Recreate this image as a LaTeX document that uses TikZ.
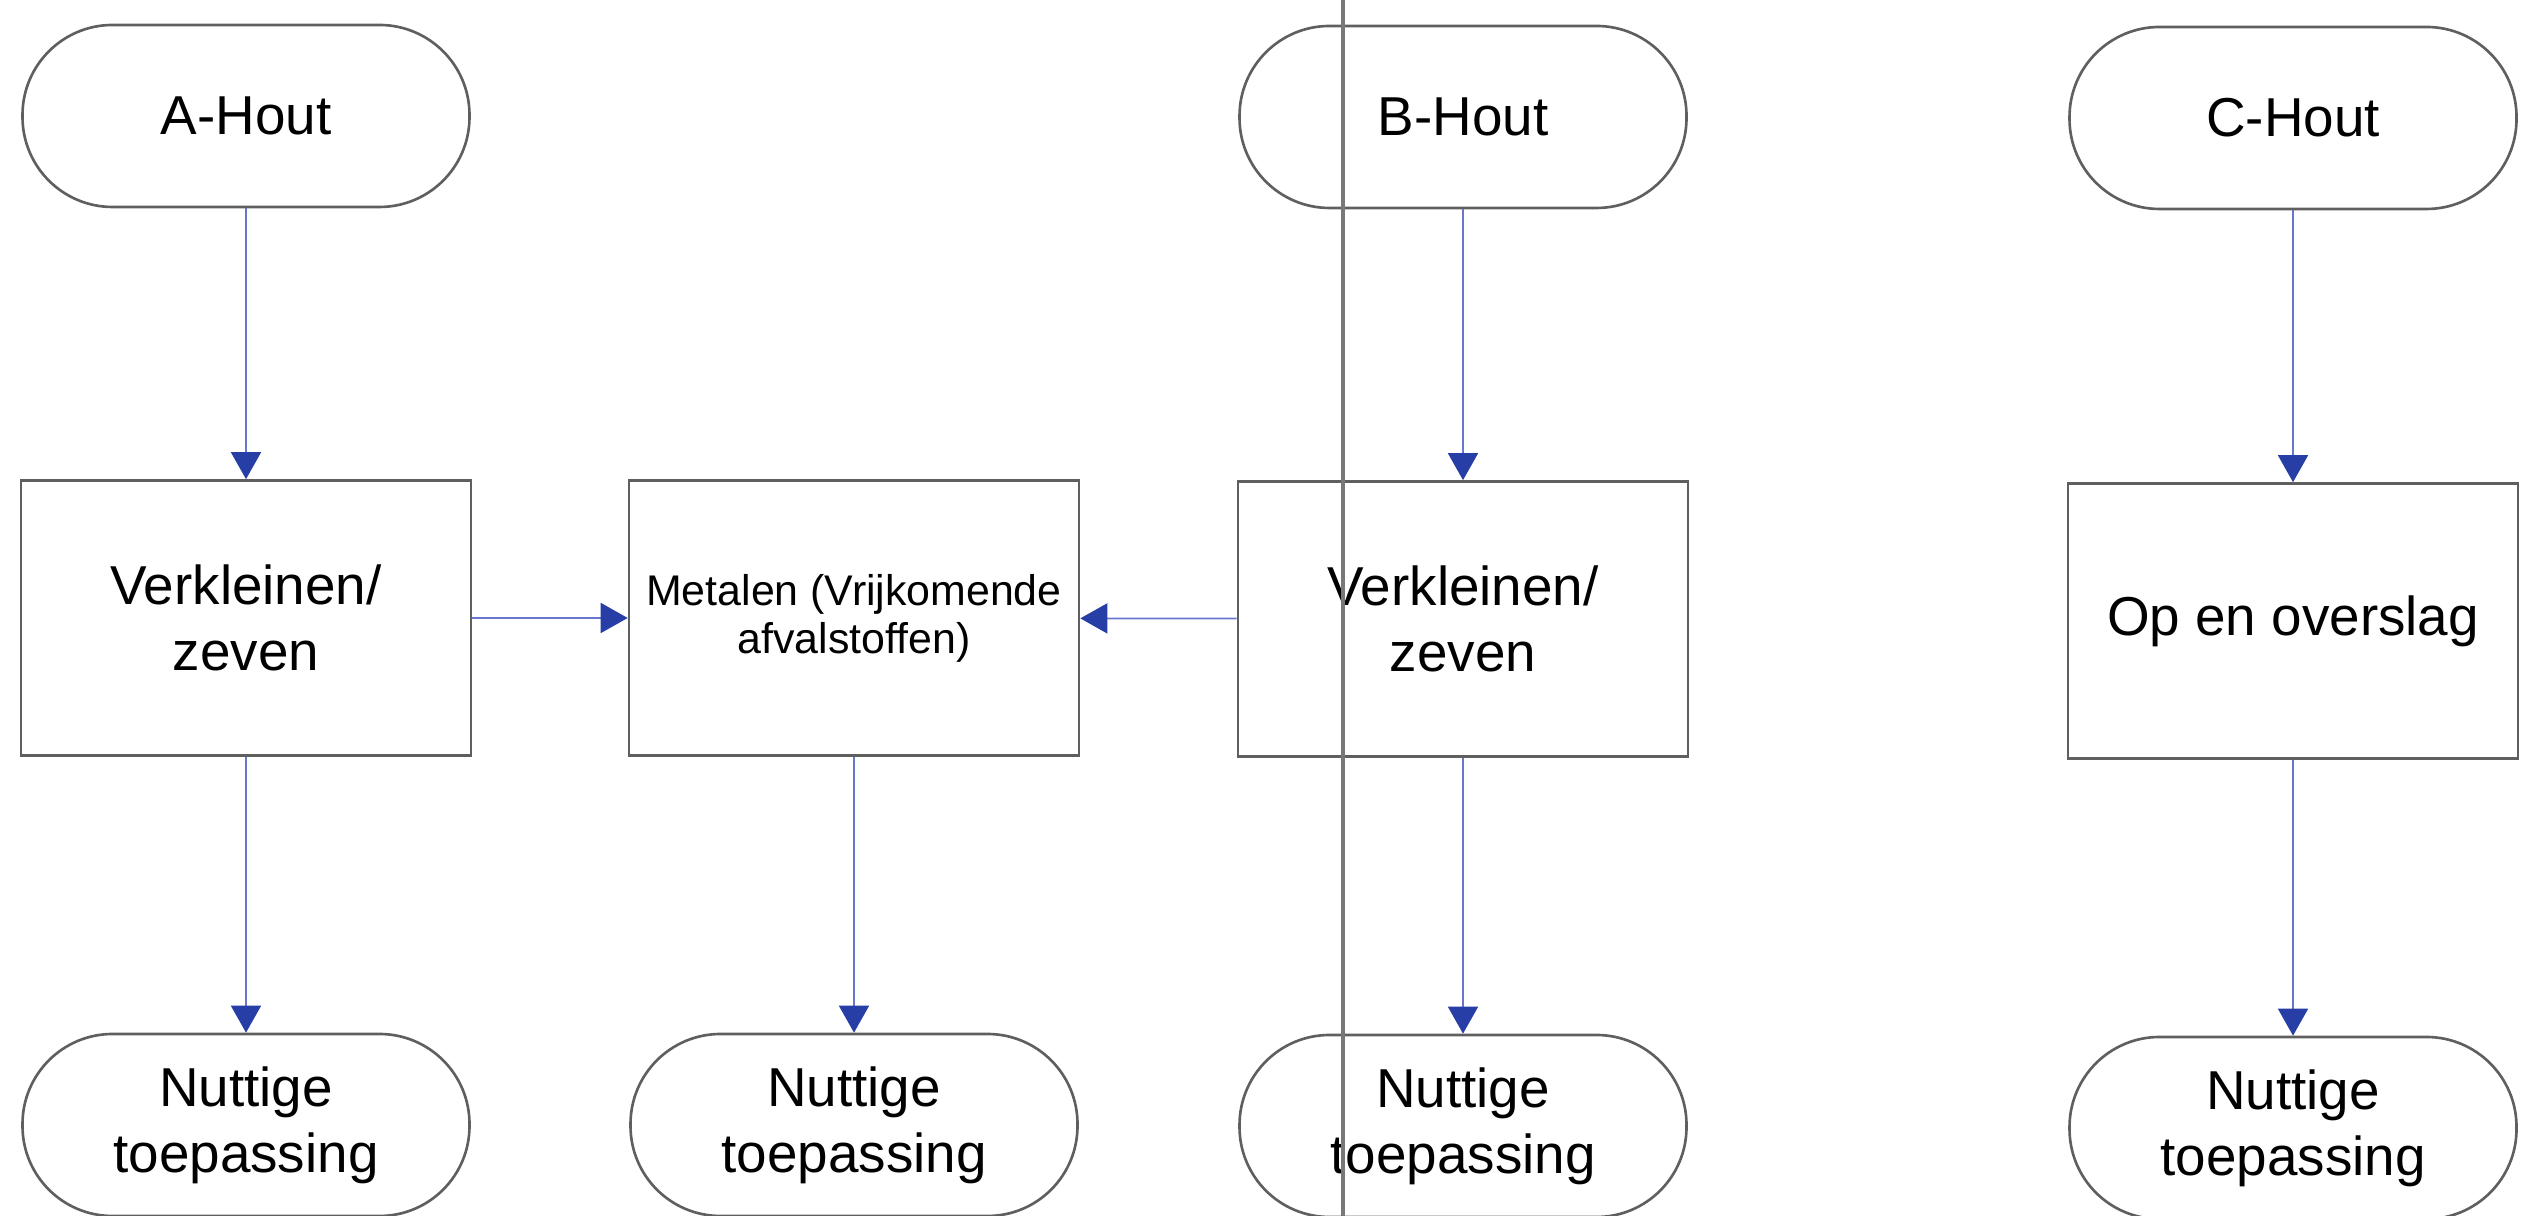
\documentclass[tikz,border=0pt]{standalone}
\usepackage{fontspec}
\setmainfont{Liberation Sans}
\usetikzlibrary{arrows.meta,positioning}

\definecolor{flowline}{RGB}{105,118,205}
\definecolor{flowtip}{RGB}{38,62,165}
\definecolor{edgegray}{RGB}{95,95,95}
\definecolor{rulegray}{RGB}{120,120,120}

\begin{document}
\begin{tikzpicture}[
	term/.style={draw=edgegray, line width=0.75pt, rounded corners=0.9cm, minimum width=4.47cm, minimum height=1.82cm, align=center, font=\fontsize{15.6}{18.8}\selectfont},
	stepbox/.style={draw=edgegray, line width=0.75pt, minimum width=4.5cm, minimum height=2.75cm, align=center, font=\fontsize{15.6}{18.8}\selectfont},
	flow/.style={draw=flowline, line width=0.5pt, -{Triangle[length=2.7mm,width=3mm,color=flowtip]}}
	]
				\useasboundingbox (0,0) rectangle (25.23,12.16);
				
				\node[term] (ahout) at (2.46, 11.0) {A-Hout};
				\node[term] (bhout) at (14.63, 10.99) {B-Hout};
				\node[term] (chout) at (22.93, 10.98) {C-Hout};
				
				\node[stepbox] (averkl) at (2.46, 5.98) {Verkleinen/\\zeven};
				\node[stepbox, font=\fontsize{12.2}{13.7}\selectfont] (metalen) at (8.54, 5.98) {Metalen (Vrijkomende\\afvalstoffen)};
				\node[stepbox] (bverkl) at (14.63, 5.97) {Verkleinen/\\zeven};
				\node[stepbox] (cover) at (22.93, 5.95) {Op en overslag};
				
				\node[term] (anut) at (2.46, 0.91) {Nuttige\\toepassing};
				\node[term] (mnut) at (8.54, 0.91) {Nuttige\\toepassing};
				\node[term] (bnut) at (14.63, 0.9) {Nuttige\\toepassing};
				\node[term] (cnut) at (22.93, 0.88) {Nuttige\\toepassing};
				
				\draw[flow] (ahout) -- (averkl);
				\draw[flow] (averkl) -- (anut);
				\draw[flow] (averkl) -- (metalen);
				\draw[flow] (metalen) -- (mnut);
				\draw[flow] (bverkl) -- (metalen);
				\draw[flow] (bhout) -- (bverkl);
				\draw[flow] (bverkl) -- (bnut);
				\draw[flow] (chout) -- (cover);
				\draw[flow] (cover) -- (cnut);
				
				\draw[rulegray, line width=0.9pt] (13.43, 0) -- (13.43, 12.16);
\end{tikzpicture}
\end{document}
